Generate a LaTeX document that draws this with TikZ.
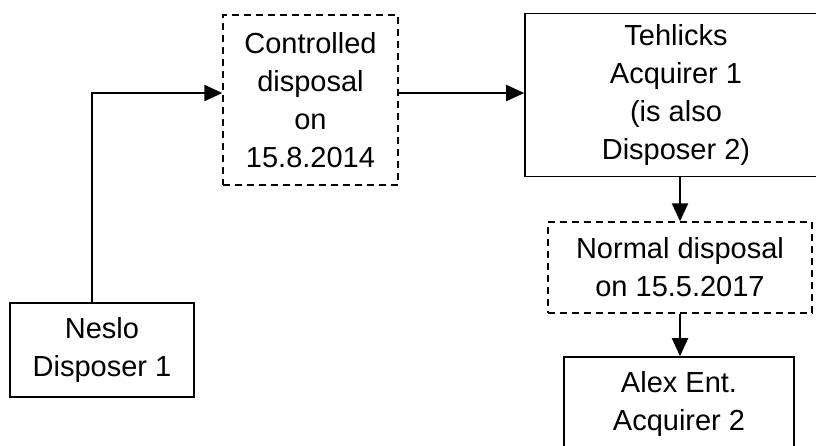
\documentclass[tikz,border=0pt]{standalone}
\usepackage{fontspec}
\setmainfont{Liberation Sans}
\usepackage{tikz}
\usetikzlibrary{arrows.meta,calc}

\begin{document}
\begin{tikzpicture}[x=1pt,y=1pt,
  solidbox/.style={draw,line width=1.6pt,rectangle,align=center,
    font=\fontsize{29}{38}\selectfont,inner sep=0pt},
  dashbox/.style={solidbox,line width=1.3pt,dash pattern=on 7pt off 5pt},
  flow/.style={line width=2pt,-{Triangle[length=18pt,width=16pt]}}]
\useasboundingbox (0,0) rectangle (816,-445);
\clip (0,0) rectangle (816,-445);
\node[solidbox,minimum width=184,minimum height=94] (neslo) at (102,-350) {Neslo\\Disposer 1};
\node[dashbox,minimum width=175,minimum height=170] (ctrl) at (310.5,-100) {Controlled\\disposal\\on\\15.8.2014};
% box runs past the right edge
\node[solidbox,minimum width=302,minimum height=163] (teh) at (676,-95) {Tehlicks\\Acquirer 1\\(is also\\Disposer 2)};
\node[dashbox,minimum width=264,minimum height=91] (norm) at (680,-267.5) {Normal disposal\\on 15.5.2017};
\node[solidbox,minimum width=230,minimum height=94] (alex) at (679,-404) {Alex Ent.\\Acquirer 2};
\draw[flow] ([xshift=-10pt]neslo.north) |- ([yshift=7pt]ctrl.west);
\draw[flow] (ctrl.east |- 0,-93) -- (teh.west |- 0,-93);
\draw[flow] (teh.south -| norm.north) -- (norm.north);
\draw[flow] (norm.south) -- (norm.south |- alex.north);
\end{tikzpicture}
\end{document}
